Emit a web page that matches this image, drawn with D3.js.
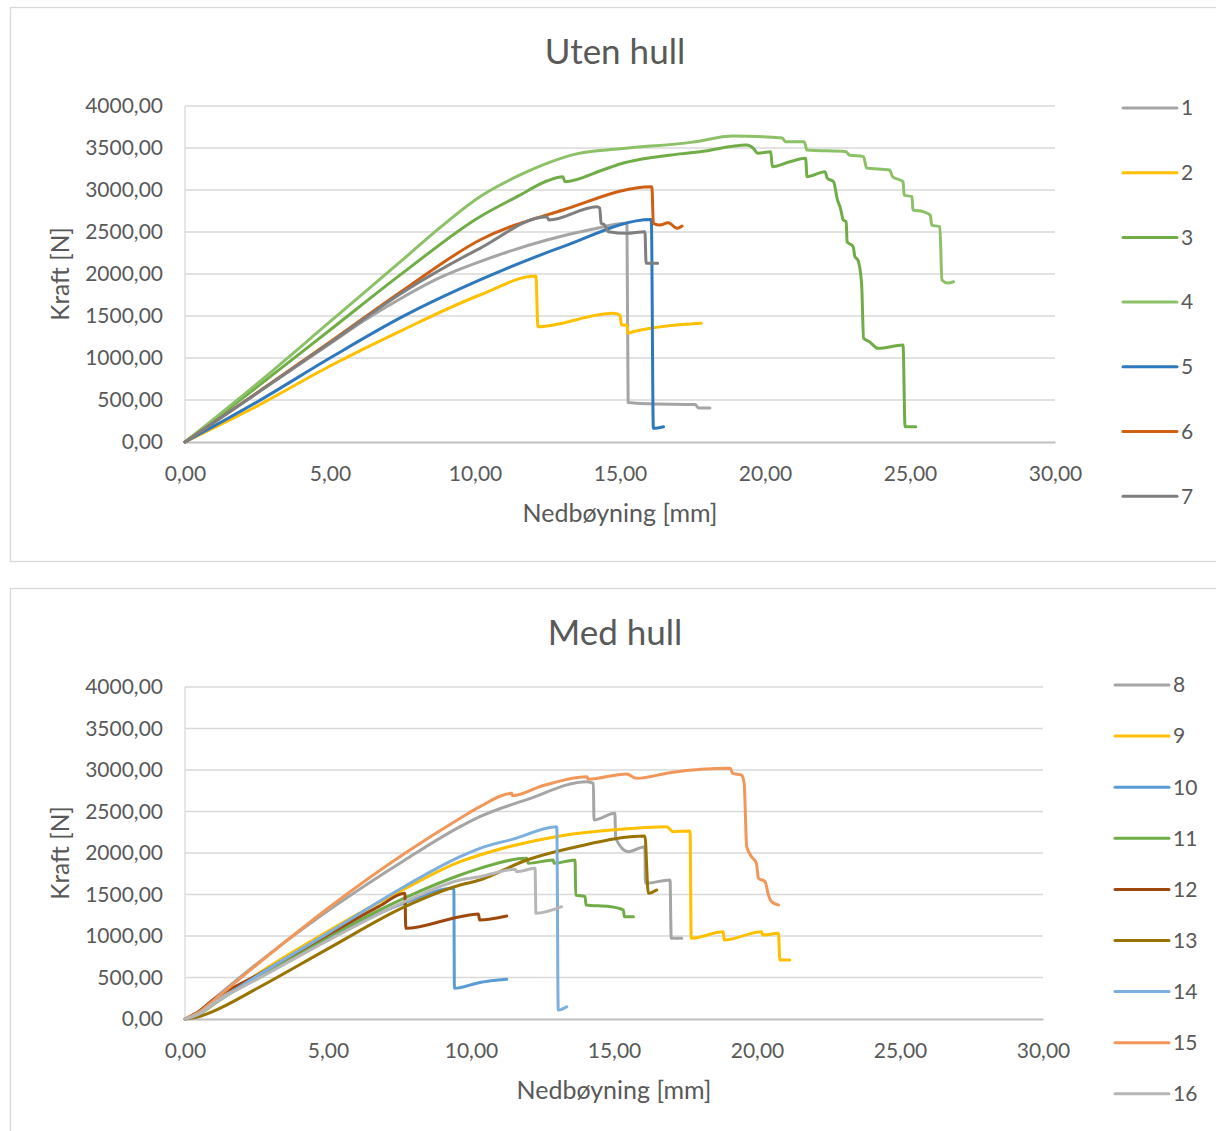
<!DOCTYPE html>
<html>
<head>
<meta charset="utf-8">
<script src="https://cdn.jsdelivr.net/npm/d3@7"></script>
<style>
  html, body { margin: 0; padding: 0; background: #fff; }
  svg { display: block; font-family: Lato, "Open Sans", sans-serif; }
</style>
</head>
<body>
<svg id="chart" width="1216" height="1131"></svg>
<script>
// Load–deflection curves, [deflection mm, force N]
// "Uten hull" specimens
const series1 = [[0,0],[2.5,585],[5,1170],[6.25,1460],[7.5,1720],[8.75,1950],[10.17,2147],[12.48,2405],[14,2530],[15.24,2603],[15.28,470],[16,455],[17.6,445],[17.7,405],[18.1,405]];
const series2 = [[0,0],[2.5,430],[5,905],[7.5,1333],[10.17,1750],[12.1,1975],[12.17,1373],[14.76,1532],[15.0,1512],[15.05,1393],[15.24,1393],[15.28,1294],[15.45,1313],[17.8,1413]];
const series3 = [[0,0],[2.5,659],[5,1333],[7.5,2010],[10.17,2682],[11.5,2930],[12.5,3110],[13.03,3158],[13.1,3099],[14.4,3238],[15,3310],[17.07,3430],[17.76,3456],[19.37,3536],[19.6,3496],[19.75,3437],[20.2,3456],[20.25,3278],[20.86,3337],[21.4,3377],[21.45,3158],[22.07,3218],[22.15,3139],[22.36,3100],[22.5,2881],[22.6,2785],[22.7,2643],[22.8,2623],[22.83,2385],[23.04,2325],[23.1,2206],[23.2,2167],[23.33,1889],[23.4,1235],[23.6,1194],[23.9,1115],[24.76,1155],[24.83,182],[25.2,182]];
const series4 = [[0,0],[2.5,698],[5,1432],[7.5,2167],[8.75,2540],[10.17,2920],[11.5,3170],[12.5,3320],[13.5,3430],[15,3490],[17.5,3570],[18.9,3643],[20.6,3619],[20.7,3575],[21.35,3575],[21.45,3476],[22.8,3456],[22.9,3417],[23.4,3397],[23.5,3262],[24.3,3238],[24.4,3158],[24.76,3100],[24.8,2940],[25.07,2920],[25.1,2762],[25.45,2742],[25.7,2702],[25.75,2583],[26.03,2563],[26.1,1929],[26.3,1893],[26.5,1908]];
const series5 = [[0,0],[2.5,480],[5,1000],[7.5,1492],[10.17,1929],[13.03,2325],[16.08,2650],[16.15,163],[16.5,182]];
const series6 = [[0,0],[2.5,590],[5,1190],[7.5,1800],[10.17,2405],[13.03,2762],[16.1,3040],[16.15,2603],[16.38,2583],[16.66,2611],[16.97,2544],[17.14,2571]];
const series7 = [[0,0],[2.5,585],[5,1180],[7.5,1780],[10.17,2306],[12.48,2682],[12.55,2643],[14.2,2801],[14.3,2785],[14.35,2603],[14.45,2590],[14.6,2504],[15.24,2484],[15.86,2504],[15.9,2127],[16.3,2127]];

// "Med hull" specimens
const series8  = [[0,0],[0.5,95],[1,240],[2.53,671],[5.07,1321],[7.69,1916],[9.62,2317],[10.31,2437],[12,2650],[14.05,2859],[14.28,2839],[14.3,2398],[15.03,2478],[15.06,2177],[15.5,2016],[16.08,2076],[16.1,1635],[16.96,1675],[17.0,972],[17.37,972]];
const series9  = [[0,0],[0.5,60],[1,175],[2.53,540],[5.07,1072],[7.69,1570],[9.62,1895],[10.31,1976],[13.11,2205],[15,2280],[16.84,2317],[17.07,2257],[17.66,2265],[17.7,972],[18.82,1052],[18.85,952],[20.16,1052],[20.2,1012],[20.75,1032],[20.8,711],[21.15,711]];
const series10 = [[0,0],[0.5,65],[1,190],[2.53,500],[5.07,990],[7.69,1400],[9.4,1574],[9.42,370],[10.31,440],[11.25,478]];
const series11 = [[0,0],[0.5,60],[1,185],[2.53,490],[5.07,1000],[7.69,1460],[9.62,1735],[10.31,1815],[11.95,1936],[12.0,1876],[12.88,1916],[12.9,1876],[13.64,1916],[13.66,1494],[13.99,1474],[14.02,1373],[14.86,1353],[15.33,1313],[15.36,1233],[15.68,1233]];
const series12 = [[0,0],[0.5,95],[1,235],[2.53,530],[5.07,1030],[6.8,1360],[7.69,1514],[7.72,1092],[9.62,1233],[10.26,1265],[10.3,1193],[11.25,1241]];
const series13 = [[0,0],[0.5,30],[1,95],[2.53,370],[5.07,860],[7.69,1353],[9.62,1614],[10.31,1675],[11.95,1916],[13.7,2076],[16.08,2205],[16.2,1514],[16.49,1554]];
const series14 = [[0,0],[0.5,60],[1,180],[2.53,520],[5.07,1050],[7.69,1600],[9.62,1955],[10.31,2056],[11.5,2170],[13.0,2317],[13.05,108],[13.35,148]];
const series15 = [[0,0],[0.5,85],[1,225],[2.53,660],[5.07,1353],[7.69,1996],[9.62,2418],[10.31,2558],[11.42,2719],[11.45,2690],[12.5,2810],[14.05,2920],[14.1,2890],[15.44,2952],[15.79,2900],[17,2970],[19.06,3020],[19.15,2960],[19.46,2940],[19.55,2840],[19.64,2076],[19.81,1956],[19.98,1876],[20.05,1695],[20.28,1655],[20.4,1494],[20.51,1414],[20.75,1373]];
const series16 = [[0,0],[0.5,65],[1,190],[2.53,480],[5.07,960],[7.69,1414],[9.62,1675],[10.31,1715],[11.54,1803],[11.6,1775],[12.24,1815],[12.27,1273],[13.17,1353]];

const topLabels = ["1","2","3","4","5","6","7"];
const topColors = ["#A5A5A5","#FFC000","#70AD47","#8CC168","#2E78BE","#CF5F13","#7F7F7F"];
const topData   = [series1,series2,series3,series4,series5,series6,series7];

const bottomLabels = ["8","9","10","11","12","13","14","15","16"];
const bottomColors = ["#A5A5A5","#FFC000","#5B9BD5","#70AD47","#9E480E","#997300","#7CAFDD","#F1975A","#B7B7B7"];
const bottomData   = [series8,series9,series10,series11,series12,series13,series14,series15,series16];

const xTicks = [0,5,10,15,20,25,30];
const yTicks = [0,500,1000,1500,2000,2500,3000,3500,4000];
const xTitle = "Nedbøyning [mm]";
const yTitle = "Kraft [N]";

const nbLocale = d3.formatLocale({decimal: ",", thousands: "", grouping: [3], currency: ["", " kr"]});
const fmt = nbLocale.format(".2f");

const svg = d3.select("#chart");

function drawPanel(cfg) {
  const g = svg.append("g");
  // panel frame
  g.append("rect")
    .attr("x", cfg.frame[0]).attr("y", cfg.frame[1])
    .attr("width", cfg.frame[2]).attr("height", cfg.frame[3])
    .attr("fill", "#fff").attr("stroke", "#D9D9D9").attr("stroke-width", 1.3);

  const x = d3.scaleLinear().domain([0, 30]).range([cfg.left, cfg.right]);
  const y = d3.scaleLinear().domain([0, 4000]).range([cfg.bottom, cfg.top]);

  // horizontal gridlines
  g.append("g").selectAll("line").data(yTicks.slice(1)).join("line")
    .attr("x1", cfg.left).attr("x2", cfg.right)
    .attr("y1", d => y(d)).attr("y2", d => y(d))
    .attr("stroke", "#D9D9D9").attr("stroke-width", 1.3);
  // vertical axis line
  g.append("line")
    .attr("x1", cfg.left).attr("x2", cfg.left)
    .attr("y1", cfg.top).attr("y2", cfg.bottom)
    .attr("stroke", "#D9D9D9").attr("stroke-width", 1.3);

  // y axis labels
  const ya = g.append("g").attr("transform", `translate(${cfg.left},0)`)
    .call(d3.axisLeft(y).tickValues(yTicks).tickFormat(fmt).tickSize(0).tickPadding(22));
  ya.select(".domain").remove();
  ya.selectAll("text").attr("font-family", "Lato, sans-serif").attr("font-size", 21).attr("fill", "#595959");

  // x axis
  const xa = g.append("g").attr("transform", `translate(0,${cfg.bottom})`)
    .call(d3.axisBottom(x).tickValues(xTicks).tickFormat(fmt).tickSize(0).tickPadding(24));
  xa.select(".domain").attr("stroke", "#BFBFBF").attr("stroke-width", 1.8);
  xa.selectAll("text").attr("font-family", "Lato, sans-serif").attr("font-size", 21).attr("fill", "#595959");

  // curves
  const line = d3.line().x(d => x(d[0])).y(d => y(d[1])).curve(d3.curveMonotoneX);
  g.append("g").selectAll("path").data(cfg.data).join("path")
    .attr("d", d => line(d))
    .attr("fill", "none")
    .attr("stroke", (d, i) => cfg.colors[i])
    .attr("stroke-width", 3)
    .attr("stroke-linejoin", "round")
    .attr("stroke-linecap", "round");

  // title
  g.append("text").attr("x", cfg.titleX).attr("y", cfg.titleY)
    .attr("text-anchor", "middle").attr("font-size", 35).attr("fill", "#595959")
    .attr("font-family", "Lato, sans-serif")
    .text(cfg.title);
  // axis titles
  g.append("text").attr("x", (cfg.left + cfg.right) / 2).attr("y", cfg.bottom + 80)
    .attr("text-anchor", "middle").attr("font-size", 25).attr("fill", "#595959")
    .text(xTitle);
  g.append("text")
    .attr("transform", `translate(${cfg.yTitleX},${(cfg.top + cfg.bottom) / 2}) rotate(-90)`)
    .attr("text-anchor", "middle").attr("font-size", 24.5).attr("fill", "#595959")
    .text(yTitle);

  // legend
  const lg = g.append("g").selectAll("g").data(cfg.labels).join("g")
    .attr("transform", (d, i) => `translate(${cfg.legX},${cfg.legY + i * cfg.legStep})`);
  lg.append("line").attr("x1", 0).attr("x2", 54).attr("y1", 0).attr("y2", 0)
    .attr("stroke", (d, i) => cfg.colors[i]).attr("stroke-width", 3).attr("stroke-linecap", "round");
  lg.append("text").attr("x", 58).attr("y", 0).attr("dy", "0.35em")
    .attr("font-size", 21).attr("fill", "#595959").text(d => d);
}

drawPanel({
  frame: [10.5, 7.5, 1220, 554],
  left: 185, right: 1055, top: 106, bottom: 442,
  data: topData, colors: topColors, labels: topLabels,
  title: "Uten hull", titleX: 615, titleY: 64, yTitleX: 69,
  legX: 1123, legY: 108, legStep: 64.7
});
drawPanel({
  frame: [10.5, 588.5, 1220, 560],
  left: 185, right: 1043, top: 687, bottom: 1019,
  data: bottomData, colors: bottomColors, labels: bottomLabels,
  title: "Med hull", titleX: 615, titleY: 645, yTitleX: 69,
  legX: 1115, legY: 685, legStep: 51.1
});
</script>
</body>
</html>
